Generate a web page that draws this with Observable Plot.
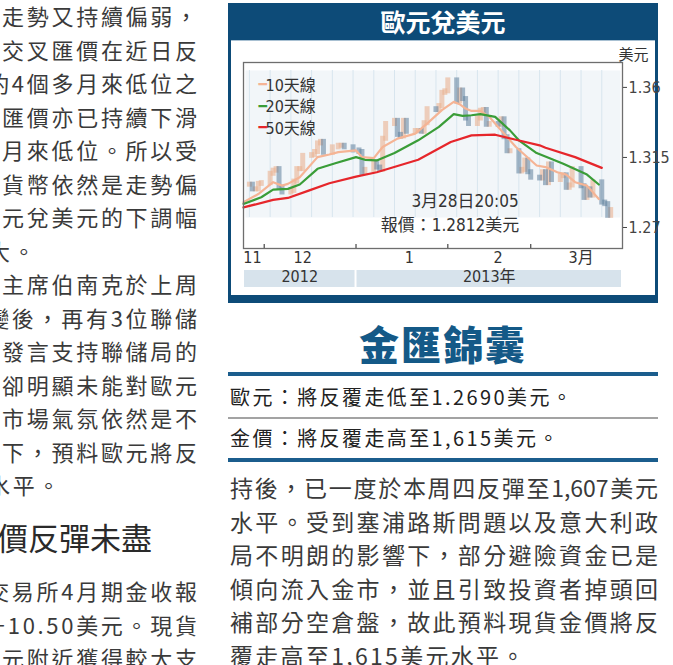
<!DOCTYPE html>
<html><head><meta charset="utf-8">
<script src="https://cdn.jsdelivr.net/npm/d3@7"></script>
<script src="https://cdn.jsdelivr.net/npm/@observablehq/plot@0.6"></script>
<style>
html,body{margin:0;padding:0;background:#fff;}
body{width:673px;height:665px;overflow:hidden;position:relative;font-family:"Noto Sans CJK TC","Noto Sans CJK SC",sans-serif;}
.col{position:absolute;left:0;top:0;width:199px;height:665px;overflow:hidden;}
.ln{position:absolute;white-space:nowrap;font-size:22px;line-height:26px;letter-spacing:2.7px;color:#3a3a3a;}
.r{right:-0.7px;}
.head{position:absolute;white-space:nowrap;font-size:31px;line-height:36px;color:#2a2a2a;left:-34px;top:519px;}
.rb{position:absolute;left:230px;width:428px;font-size:23px;line-height:28px;text-align:justify;text-align-last:justify;color:#3a3a3a;}
.rb.last{text-align:left;text-align-last:left;letter-spacing:2.3px;}
#box{position:absolute;left:228px;top:3px;width:430px;height:300px;background:#0d4b78;}
#ttl{position:absolute;left:0;top:0;width:430px;height:37px;line-height:37px;text-align:center;color:#fff;font-weight:700;font-size:25px;}
#inner{position:absolute;left:3px;top:37px;width:424px;height:255px;background:#fff;border-top:1px solid #a8c0d2;box-sizing:border-box;}
#inner svg{position:absolute;left:0;top:-1px;}
.hl{position:absolute;left:228px;width:430px;top:319px;text-align:center;font-size:40px;line-height:48px;font-weight:900;color:#145987;letter-spacing:2px;}
.rule{position:absolute;left:228px;width:430px;}
.tip{position:absolute;left:230px;font-size:20px;line-height:24px;letter-spacing:2.4px;color:#222;white-space:nowrap;}
</style></head>
<body>
<div class="col" id="col"></div>
<div id="box"><div id="ttl">歐元兌美元</div><div id="inner"></div></div>
<div class="hl">金匯錦囊</div>
<div class="rule" style="top:372px;height:4px;background:#1b5d8d;"></div>
<div class="tip" style="top:385px;">歐元：將反覆走低至1.2690美元。</div>
<div class="rule" style="top:417px;height:2px;background:#a3a3a3;"></div>
<div class="tip" style="top:426px;">金價：將反覆走高至1,615美元。</div>
<div class="rule" style="top:458px;height:4px;background:#1b5d8d;"></div>
<div id="rcol"></div>
<script>
// ---------- data ----------
const candleDates = ["2012-11-23","2012-11-26","2012-11-27","2012-11-28","2012-11-29","2012-11-30",
"2012-12-03","2012-12-04","2012-12-05","2012-12-06","2012-12-07","2012-12-10","2012-12-11","2012-12-12","2012-12-13","2012-12-14",
"2012-12-17","2012-12-18","2012-12-19","2012-12-20","2012-12-21","2012-12-24","2012-12-26","2012-12-27","2012-12-28","2012-12-31",
"2013-01-02","2013-01-03","2013-01-04","2013-01-07","2013-01-08","2013-01-09","2013-01-10","2013-01-11","2013-01-14","2013-01-15",
"2013-01-16","2013-01-17","2013-01-18","2013-01-21","2013-01-22","2013-01-23","2013-01-24","2013-01-25","2013-01-28","2013-01-29",
"2013-01-30","2013-01-31","2013-02-01","2013-02-04","2013-02-05","2013-02-06","2013-02-07","2013-02-08","2013-02-11","2013-02-12",
"2013-02-13","2013-02-14","2013-02-15","2013-02-18","2013-02-19","2013-02-20","2013-02-21","2013-02-22","2013-02-25","2013-02-26",
"2013-02-27","2013-02-28","2013-03-01","2013-03-04","2013-03-05","2013-03-06","2013-03-07","2013-03-08","2013-03-11","2013-03-12",
"2013-03-13","2013-03-14","2013-03-15","2013-03-18","2013-03-19","2013-03-20","2013-03-21","2013-03-22","2013-03-25","2013-03-26",
"2013-03-27","2013-03-28"];
const candleCloses = [1.2975,1.2975,1.2945,1.2945,1.2980,1.2985,
1.3045,1.3065,1.3075,1.2955,1.2925,1.2935,1.2995,1.3075,1.3075,1.3160,
1.3165,1.3185,1.3240,1.3250,1.3180,1.3215,1.3225,1.3225,1.3215,1.3195,
1.3185,1.3050,1.3070,1.3115,1.3085,1.3070,1.3270,1.3365,1.3385,1.3295,
1.3285,1.3385,1.3315,1.3320,1.3320,1.3315,1.3370,1.3460,1.3455,1.3480,
1.3565,1.3575,1.3645,1.3510,1.3580,1.3525,1.3400,1.3365,1.3400,1.3450,
1.3455,1.3360,1.3365,1.3360,1.3395,1.3280,1.3190,1.3190,1.3060,1.3070,
1.3130,1.3055,1.3020,1.3015,1.3055,1.2985,1.3105,1.3005,1.3030,1.3035,
1.2955,1.2970,1.3075,1.2965,1.2890,1.2945,1.2905,1.2990,1.2860,1.2850,
1.2775,1.2812];

const ma10Dates = ["2012-11-24","2012-11-29","2012-12-04","2012-12-07","2012-12-09","2012-12-13","2012-12-19","2012-12-23","2012-12-26","2013-01-01","2013-01-03","2013-01-07","2013-01-10","2013-01-15","2013-01-21","2013-01-25","2013-01-30","2013-02-03","2013-02-05","2013-02-07","2013-02-09","2013-02-12","2013-02-15","2013-02-18","2013-02-24","2013-03-03","2013-03-06","2013-03-10","2013-03-13","2013-03-16","2013-03-20","2013-03-24"];
const ma10Values = [1.2862,1.2915,1.2991,1.2969,1.2980,1.3023,1.3152,1.3169,1.3184,1.3195,1.3152,1.3146,1.3217,1.3271,1.3303,1.3367,1.3454,1.3507,1.3492,1.3464,1.3449,1.3449,1.3411,1.3346,1.3217,1.3098,1.3088,1.3055,1.3040,1.2991,1.2969,1.2883];

const ma20Dates = ["2012-11-24","2012-11-30","2012-12-04","2012-12-09","2012-12-13","2012-12-19","2012-12-25","2013-01-01","2013-01-04","2013-01-08","2013-01-14","2013-01-22","2013-01-29","2013-02-03","2013-02-06","2013-02-09","2013-02-12","2013-02-17","2013-02-22","2013-02-25","2013-03-03","2013-03-07","2013-03-12","2013-03-20","2013-03-24"];
const ma20Values = [1.2851,1.2894,1.2943,1.2948,1.2976,1.3077,1.3113,1.3152,1.3135,1.3131,1.3178,1.3260,1.3346,1.3428,1.3417,1.3421,1.3428,1.3411,1.3324,1.3260,1.3178,1.3148,1.3109,1.3040,1.2976];

const ma50Dates = ["2012-11-24","2012-12-04","2012-12-09","2012-12-16","2012-12-23","2013-01-01","2013-01-08","2013-01-22","2013-02-02","2013-02-09","2013-02-17","2013-02-24","2013-03-04","2013-03-06","2013-03-16","2013-03-25"];
const ma50Values = [1.2829,1.2877,1.2890,1.2937,1.2984,1.3027,1.3055,1.3135,1.3249,1.3292,1.3296,1.3264,1.3228,1.3212,1.3152,1.3083];

const legendLabels = ["10天線","20天線","50天線"];
const legendColors = ["#f5b495","#3a9d38","#e6262b"];
const yTicks = [1.27, 1.315, 1.36];
const monthTickDates = ["2012-12-01","2013-01-01","2013-02-01","2013-03-01"];
const monthLabelDates = ["2012-11-27","2012-12-14","2013-01-19","2013-02-18","2013-03-18"];
const monthLabels = ["11","12","1","2","3月"];
const yearLabels = ["2012","2013年"];
const yearStarts = ["2012-11-24","2013-01-01"];
const yearEnds = ["2013-01-01","2013-04-01"];
const xDomainDates = ["2012-11-24","2013-04-01"];
const yDomain = [1.2565, 1.376];
const annotTime = "3月28日20:05";
const annotPrice = "報價：1.2812美元";
const unitLabel = "美元";

// ---------- text columns ----------
const leftLines = [
 [15,"走勢又持續偏弱，","r"],[48.5,"交叉匯價在近日反","r"],[82,"約4個多月來低位之","r"],[115.5,"匯價亦已持續下滑","r"],
 [149,"多月來低位。所以受","r"],[182.5,"貨幣依然是走勢偏","r"],[216,"元兌美元的下調幅","r"],[249.5,"大。","l"],
 [283,"主席伯南克於上周","r"],[316.5,"變後，再有3位聯儲","r"],[350,"發言支持聯儲局的","r"],[383.5,"卻明顯未能對歐元","r"],
 [417,"市場氣氛依然是不","r"],[450.5,"下，預料歐元將反","r"],[484,"水平。","l"],
 [590,"交易所4月期金收報","r"],[623.5,"升10.50美元。現貨","r"],[657,"元附近獲得較大支","r"]];
const col = document.getElementById("col");
for (const [cy, t, a] of leftLines) {
  const d = document.createElement("div");
  d.className = "ln" + (a === "r" ? " r" : "");
  d.style.top = (cy - 13) + "px";
  if (a === "l") d.style.left = "-12px";
  d.textContent = t;
  col.appendChild(d);
}
const h = document.createElement("div"); h.className = "head"; h.textContent = "金價反彈未盡"; col.appendChild(h);

const rightLines = ["持後，已一度於本周四反彈至1,607美元","水平。受到塞浦路斯問題以及意大利政","局不明朗的影響下，部分避險資金已是","傾向流入金市，並且引致投資者掉頭回","補部分空倉盤，故此預料現貨金價將反","覆走高至1,615美元水平。"];
const rcol = document.getElementById("rcol");
rightLines.forEach((t, i) => {
  const d = document.createElement("div");
  d.className = "rb" + (i === rightLines.length - 1 ? " last" : "");
  d.style.top = (487 + i * 33.6 - 14) + "px";
  d.textContent = t;
  rcol.appendChild(d);
});

// ---------- chart ----------
const parse = d3.utcParse("%Y-%m-%d");
const candles = candleDates.slice(1).map((d, i) => ({date: parse(d), open: candleCloses[i], close: candleCloses[i + 1]}));
const toSeries = (ds, vs) => ds.map((d, i) => ({date: parse(d), value: vs[i]}));
const ma10 = toSeries(ma10Dates, ma10Values);
const ma20 = toSeries(ma20Dates, ma20Values);
const ma50 = toSeries(ma50Dates, ma50Values);
const xDomain = xDomainDates.map(parse);
const monthTicks = monthTickDates.map(parse);
const monthLabelData = monthLabelDates.map((d, i) => ({date: parse(d), label: monthLabels[i]}));
const yearBands = yearLabels.map((l, i) => ({label: l, start: parse(yearStarts[i]), end: parse(yearEnds[i])}));
const weekTicks = d3.utcMonday.range(xDomain[0], xDomain[1]);

const chartFont = "'Liberation Sans Narrow','DejaVu Sans Condensed','Liberation Sans','Noto Sans CJK TC',sans-serif";
const FH = 255 - 22 - 47; // frame height

const svg = Plot.plot({
  width: 424, height: 255,
  marginLeft: 12, marginRight: 33, marginTop: 22, marginBottom: 47,
  x: {type: "utc", domain: xDomain, axis: null},
  y: {domain: yDomain},
  style: {fontFamily: chartFont, background: "transparent", overflow: "visible", color: "#333"},
  marks: [
    Plot.frame({fill: "#f2f6f9", insetTop: 8, insetBottom: 31, insetLeft: 2, insetRight: 2}),
    Plot.gridX({ticks: weekTicks, stroke: "#d8e5ee", strokeOpacity: 1, insetTop: 8, insetBottom: 31}),
    Plot.ruleX(candles.filter(d => d.close >= d.open), {x: "date", y1: "open", y2: "close", stroke: "#e9b291", strokeWidth: 5, strokeOpacity: 0.6, strokeLinecap: "square", ariaLabel: "candles-up"}),
    Plot.ruleX(candles.filter(d => d.close < d.open), {x: "date", y1: "open", y2: "close", stroke: "#5f7f9c", strokeWidth: 5, strokeOpacity: 0.55, strokeLinecap: "square", ariaLabel: "candles-down"}),
    Plot.line(ma10, {x: "date", y: "value", stroke: legendColors[0], strokeWidth: 2.2}),
    Plot.line(ma20, {x: "date", y: "value", stroke: legendColors[1], strokeWidth: 2.2}),
    Plot.line(ma50, {x: "date", y: "value", stroke: legendColors[2], strokeWidth: 2.2}),
    Plot.frame({stroke: "#6e6e6e", strokeWidth: 1.3}),
    Plot.ruleX(monthTicks, {x: d => d, stroke: "#555", strokeWidth: 1.3, insetTop: FH - 4}),
    Plot.axisY({anchor: "right", ticks: yTicks, tickFormat: d => String(d), tickSize: 4, tickPadding: 2, fontSize: 16, color: "#444", label: null}),
    Plot.text(monthLabelData, {x: "date", text: "label", frameAnchor: "bottom", dy: 14, fontSize: 16, fill: "#333"}),
    Plot.rect(yearBands, {x1: "start", x2: "end", fill: "#d7e3ec", insetTop: FH + 22, insetBottom: -39, insetLeft: 1, insetRight: 1}),
    Plot.text(yearBands, {x: d => new Date((+d.start + +d.end) / 2), text: "label", frameAnchor: "bottom", dy: 33, fontSize: 16, fill: "#333"}),
    ...legendLabels.map((l, i) => Plot.text(["━"], {frameAnchor: "top-left", dx: 15, dy: 17 + i * 21.5, fontSize: 14, fill: legendColors[i], fontFamily: "DejaVu Sans"})),
    ...legendLabels.map((l, i) => Plot.text([l], {frameAnchor: "top-left", dx: 22, dy: 17 + i * 21.5, textAnchor: "start", fontSize: 16, fill: "#333"})),
    Plot.text([annotTime], {frameAnchor: "bottom", dx: 32, dy: -42, fontSize: 17, fill: "#333"}),
    Plot.text([annotPrice], {frameAnchor: "bottom", dx: 17, dy: -18, fontSize: 17, fill: "#333"}),
    Plot.text([unitLabel], {frameAnchor: "top-right", dx: 26, dy: -13, textAnchor: "end", fontSize: 15, fill: "#333"})
  ]
});
const s = d3.select(svg);
const f = s.insert("defs", ":first-child").append("filter").attr("id", "cblur")
  .attr("x", "-20%").attr("y", "-20%").attr("width", "140%").attr("height", "140%");
f.append("feGaussianBlur").attr("stdDeviation", 2);
s.selectAll('g[aria-label="candles-up"], g[aria-label="candles-down"]').attr("filter", "url(#cblur)");
document.getElementById("inner").appendChild(svg);
</script>
</body></html>
